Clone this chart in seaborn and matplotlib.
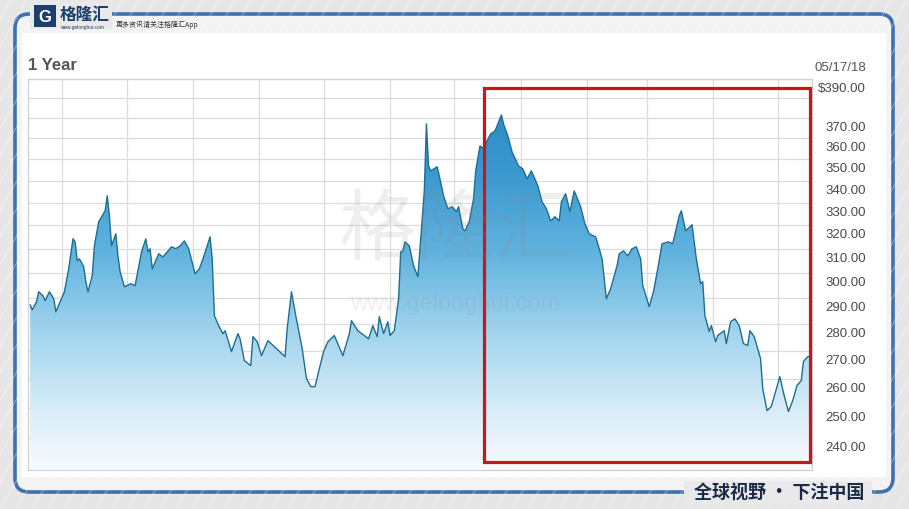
import matplotlib
matplotlib.use("Agg")
import numpy as np
import pandas as pd
import matplotlib.pyplot as plt
import matplotlib.dates as mdates
import matplotlib.transforms as mtransforms
from matplotlib.colors import LinearSegmentedColormap
from matplotlib.patches import Rectangle, FancyBboxPatch, PathPatch
from matplotlib.ticker import FixedLocator, NullLocator
import seaborn as sns

# 1-year closing prices
dates = [
    "2017-05-17", "2017-05-18", "2017-05-20", "2017-05-21", "2017-05-23", "2017-05-24",
    "2017-05-26", "2017-05-28", "2017-05-29", "2017-05-31", "2017-06-02", "2017-06-04",
    "2017-06-06", "2017-06-07", "2017-06-08", "2017-06-09", "2017-06-11", "2017-06-12",
    "2017-06-13", "2017-06-15", "2017-06-16", "2017-06-18", "2017-06-21", "2017-06-22",
    "2017-06-23", "2017-06-24", "2017-06-26", "2017-06-27", "2017-06-28", "2017-06-30",
    "2017-07-03", "2017-07-05", "2017-07-08", "2017-07-10", "2017-07-11", "2017-07-12",
    "2017-07-13", "2017-07-16", "2017-07-18", "2017-07-22", "2017-07-24", "2017-07-26",
    "2017-07-28", "2017-07-30", "2017-08-02", "2017-08-04", "2017-08-06", "2017-08-09",
    "2017-08-10", "2017-08-11", "2017-08-13", "2017-08-15", "2017-08-16", "2017-08-19",
    "2017-08-22", "2017-08-23", "2017-08-25", "2017-08-28", "2017-08-29", "2017-08-31",
    "2017-09-02", "2017-09-05", "2017-09-08", "2017-09-13", "2017-09-14", "2017-09-16",
    "2017-09-17", "2017-09-18", "2017-09-21", "2017-09-23", "2017-09-25", "2017-09-27",
    "2017-09-29", "2017-10-01", "2017-10-03", "2017-10-06", "2017-10-08", "2017-10-10",
    "2017-10-13", "2017-10-14", "2017-10-17", "2017-10-20", "2017-10-22", "2017-10-24",
    "2017-10-26", "2017-10-27", "2017-10-29", "2017-10-31", "2017-11-01", "2017-11-03",
    "2017-11-05", "2017-11-06", "2017-11-07", "2017-11-08", "2017-11-10", "2017-11-12",
    "2017-11-14", "2017-11-15", "2017-11-17", "2017-11-18", "2017-11-19", "2017-11-20",
    "2017-11-23", "2017-11-24", "2017-11-26", "2017-11-28", "2017-11-30", "2017-12-02",
    "2017-12-03", "2017-12-05", "2017-12-06", "2017-12-08", "2017-12-10", "2017-12-11",
    "2017-12-13", "2017-12-15", "2017-12-16", "2017-12-18", "2017-12-20", "2017-12-21",
    "2017-12-23", "2017-12-24", "2017-12-26", "2017-12-28", "2017-12-31", "2018-01-02",
    "2018-01-04", "2018-01-06", "2018-01-09", "2018-01-11", "2018-01-13", "2018-01-15",
    "2018-01-17", "2018-01-19", "2018-01-20", "2018-01-22", "2018-01-24", "2018-01-26",
    "2018-01-29", "2018-01-31", "2018-02-02", "2018-02-05", "2018-02-06", "2018-02-08",
    "2018-02-10", "2018-02-12", "2018-02-15", "2018-02-16", "2018-02-18", "2018-02-20",
    "2018-02-22", "2018-02-24", "2018-02-26", "2018-02-27", "2018-03-02", "2018-03-04",
    "2018-03-06", "2018-03-08", "2018-03-11", "2018-03-13", "2018-03-16", "2018-03-17",
    "2018-03-19", "2018-03-22", "2018-03-24", "2018-03-26", "2018-03-27", "2018-03-28",
    "2018-03-30", "2018-03-31", "2018-04-02", "2018-04-03", "2018-04-06", "2018-04-07",
    "2018-04-09", "2018-04-11", "2018-04-13", "2018-04-15", "2018-04-17", "2018-04-18",
    "2018-04-20", "2018-04-23", "2018-04-24", "2018-04-26", "2018-04-28", "2018-04-30",
    "2018-05-02", "2018-05-04", "2018-05-06", "2018-05-08", "2018-05-10", "2018-05-12",
    "2018-05-13", "2018-05-15", "2018-05-17",
]
prices = [
    287.5, 285.6, 288.7, 292.6, 291.0, 289.1,
    292.6, 289.9, 284.8, 288.7, 292.6, 301.8,
    314.3, 313.0, 305.1, 305.9, 302.7, 296.6,
    292.6, 299.0, 311.3, 321.6, 326.4, 333.1,
    324.2, 311.3, 316.4, 307.1, 300.6, 294.6,
    295.8, 295.0, 308.8, 314.3, 308.8, 310.1,
    301.8, 308.0, 306.7, 310.9, 310.1, 311.3,
    313.4, 310.1, 299.8, 301.8, 306.7, 315.1,
    305.9, 283.3, 279.5, 276.5, 277.6, 269.9,
    276.5, 274.6, 266.6, 264.8, 275.4, 273.5,
    268.4, 273.9, 271.7, 268.0, 278.4, 292.6,
    287.9, 283.3, 271.0, 260.2, 257.4, 257.4,
    263.7, 269.9, 273.5, 275.8, 272.1, 268.4,
    276.5, 281.4, 277.6, 275.8, 274.6, 279.5,
    275.4, 282.9, 276.5, 281.0, 275.8, 277.6,
    289.9, 308.8, 309.2, 313.0, 311.3, 303.1,
    298.6, 310.1, 334.9, 367.0, 346.8, 344.5,
    346.4, 342.2, 333.1, 327.3, 328.2, 326.0,
    328.2, 318.6, 317.7, 321.6, 331.7, 344.5,
    356.3, 354.9, 358.2, 362.1, 363.6, 366.1,
    371.5, 367.0, 361.1, 353.4, 346.8, 345.4,
    340.8, 344.5, 337.6, 330.4, 327.3, 322.0,
    323.8, 322.0, 330.4, 334.0, 326.0, 335.3,
    328.2, 320.7, 316.4, 315.1, 312.2, 305.9,
    289.9, 293.8, 303.1, 308.0, 309.2, 307.1,
    310.1, 310.9, 305.9, 295.0, 286.8, 292.6,
    301.8, 312.2, 313.0, 312.2, 324.2, 326.4,
    317.7, 320.3, 305.9, 295.8, 296.6, 283.3,
    277.3, 279.5, 273.5, 275.8, 277.6, 272.8,
    281.0, 282.1, 279.5, 272.8, 272.1, 277.6,
    275.4, 267.3, 256.7, 249.2, 250.6, 255.7,
    260.9, 254.3, 248.9, 252.6, 257.8, 259.5,
    266.3, 268.0, 268.4,
]

grid_levels = [240, 250, 260, 270, 280, 290, 300, 310, 320, 330, 340, 350, 360, 370, 380, 390]
label_levels = [390, 370, 360, 350, 340, 330, 320, 310, 300, 290, 280, 270, 260, 250, 240]
label_texts = ["$390.00", "370.00", "360.00", "350.00", "340.00", "330.00", "320.00",
               "310.00", "300.00", "290.00", "280.00", "270.00", "260.00", "250.00", "240.00"]

# highlighted window (red box)
box_start, box_end = "2017-12-15", "2018-05-16"
box_low, box_high = 232.6, 385.4

W, H = 909, 510

sns.set_theme(style="white")
plt.rcParams["font.family"] = ["Liberation Sans", "Noto Sans CJK SC", "DejaVu Sans"]
CJK = ["Noto Sans CJK SC", "DejaVu Sans"]

df = pd.DataFrame({"date": pd.to_datetime(dates), "price": prices})

fig = plt.figure(figsize=(W / 100, H / 100), dpi=100)
fig.patch.set_facecolor("#e6e6e6")

# background layer in pixel coordinates
bg = fig.add_axes([0, 0, 1, 1], zorder=-2)
bg.set_xlim(0, W)
bg.set_ylim(H, 0)
bg.axis("off")
for k in range(-30, 80):
    x0 = k * 16
    bg.plot([x0, x0 + 300], [H, 0], color="white", lw=0.8, alpha=0.35)
panel = FancyBboxPatch((15, 15), 878, 478, boxstyle="round,pad=0,rounding_size=14",
                       facecolor="#f3f3f3", edgecolor="#3f72ad", lw=2.6)
bg.add_patch(panel)
bg.add_patch(Rectangle((22, 34), 864, 444, facecolor="white", edgecolor="none"))
# gaps in the border for logo and footer
bg.add_patch(Rectangle((30, 2), 82, 28, facecolor="#e9e9e9", edgecolor="none", zorder=3))
bg.add_patch(Rectangle((684, 482), 188, 24, facecolor="#e9e9e9", edgecolor="none", zorder=3))

# main chart axes
left, right, top, bottom = 28, 812, 80, 471
ax = fig.add_axes([left / W, 1 - bottom / H, (right - left) / W, (bottom - top) / H], zorder=1)
ax.set_facecolor("white")

sns.lineplot(data=df, x="date", y="price", ax=ax, color="#1f6d90", linewidth=1.0, zorder=4)

fill = ax.fill_between(df["date"], df["price"], 100, facecolor="none", edgecolor="none")
clip = PathPatch(fill.get_paths()[0], transform=ax.transData, facecolor="none", edgecolor="none")
ax.add_patch(clip)
cmap = LinearSegmentedColormap.from_list(
    "fill", [(0.0, "#f8fbfd"), (0.15, "#d8edf8"), (0.35, "#a2d4ed"),
             (0.55, "#62b4df"), (0.75, "#3c9ad0"), (1.0, "#2585c2")])
grad = np.linspace(0, 1, 256).reshape(-1, 1)
img = ax.imshow(grad, cmap=cmap, aspect="auto", extent=[0, 1, 0, 1],
                transform=ax.transAxes, origin="lower", zorder=2)
img.set_clip_path(clip)

ax.set_yscale("log")
ax.set_xlim(pd.Timestamp("2017-05-16"), pd.Timestamp("2018-05-17"))
ax.set_ylim(230, 390)
ax.yaxis.set_major_locator(FixedLocator(grid_levels))
ax.yaxis.set_minor_locator(NullLocator())
ax.xaxis.set_major_locator(mdates.MonthLocator())
ax.tick_params(left=False, bottom=False, labelleft=False, labelbottom=False)
ax.set_xlabel("")
ax.set_ylabel("")
ax.grid(True, color="#dcdcdc", lw=0.9)
ax.set_axisbelow(True)
for s in ax.spines.values():
    s.set_color("#d0d0d0")
    s.set_linewidth(0.9)

# price labels to the right of the plot, hung just below their gridline
lab_tf = mtransforms.offset_copy(
    mtransforms.blended_transform_factory(fig.transFigure, ax.transData),
    fig=fig, x=0, y=-3, units="dots")
for lv, txt in zip(label_levels, label_texts):
    ax.text(866 / W, lv, txt, transform=lab_tf, ha="right", va="top",
            fontsize=9.5, color="#4a4a4a", clip_on=False)

# red box around the recent period
x0 = mdates.date2num(pd.Timestamp(box_start))
x1 = mdates.date2num(pd.Timestamp(box_end))
ax.add_patch(Rectangle((x0, box_low), x1 - x0, box_high - box_low, fill=False,
                       edgecolor="#c8161d", lw=2.3, zorder=6, clip_on=False))

# overlay layer: titles, watermark, header and footer
ov = fig.add_axes([0, 0, 1, 1], zorder=5)
ov.set_xlim(0, W)
ov.set_ylim(H, 0)
ov.axis("off")
ov.patch.set_alpha(0)

ov.text(28, 66, "1 Year", fontsize=12, fontweight="bold", color="#555555", va="center")
ov.text(866, 68, "05/17/18", fontsize=9.5, color="#555555", ha="right", va="center")

ov.text(455, 232, "格隆汇", family=CJK, fontsize=56, color="#888888", alpha=0.14,
        ha="center", va="center")
ov.text(455, 304, "www.gelonghui.com", fontsize=17, color="#888888", alpha=0.13,
        ha="center", va="center")

ov.add_patch(Rectangle((34, 6), 22, 22, facecolor="#1d3f6e", edgecolor="none"))
ov.text(45, 17, "G", fontsize=12, fontweight="bold", color="white", ha="center", va="center")
ov.text(60, 15, "格隆汇", family=CJK, fontsize=12, fontweight="bold", color="#1d3f6e", va="center")
ov.text(60, 27, "www.gelonghui.com", fontsize=3.5, color="#1d3f6e", va="center")
ov.text(116, 25, "更多资讯请关注格隆汇App", family=CJK, fontsize=5, color="#333333", va="center")

ov.text(779, 493, "全球视野 • 下注中国", family=CJK, fontsize=13, fontweight="bold",
        color="#1b2a48", ha="center", va="center")

fig.savefig("out.png", dpi=100, facecolor=fig.get_facecolor())
